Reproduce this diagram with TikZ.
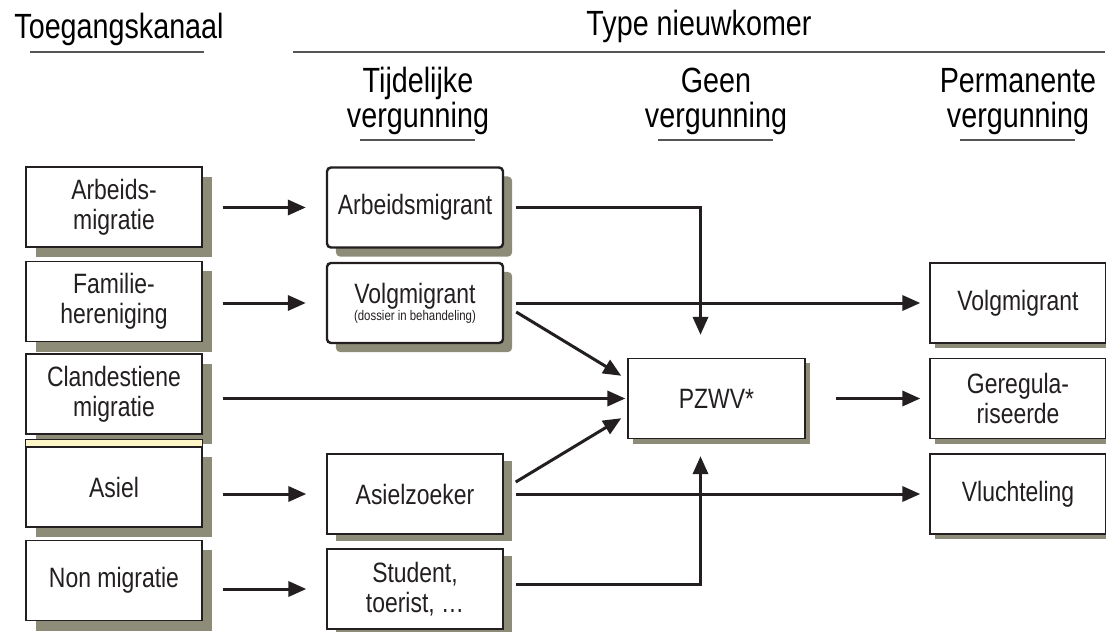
\documentclass[tikz,border=0pt]{standalone}
\usepackage{fontspec}
\setmainfont{Liberation Sans}[FakeStretch=0.82]
\usepackage{xcolor}
\definecolor{diaDark}{HTML}{231F20}
\definecolor{diaShadow}{HTML}{8C8C78}
\definecolor{diaRule}{HTML}{555555}
\definecolor{diaStrip}{HTML}{FFF6C8}
\usetikzlibrary{arrows.meta,shadows,calc}
\newcommand{\vakfont}{\fontsize{19.9}{21.3}\selectfont}
\newcommand{\hoofdfont}{\fontsize{24.9}{26}\selectfont}
\newcommand{\kleinfont}{\fontsize{9.9}{11}\selectfont}
\tikzset{
    vak/.style={
        draw=diaDark,
        fill=white,
        rectangle,
        align=center,
        minimum height=2cm,
        minimum width=4.4cm,
        inner sep=0pt,
        line width=0.035cm,
        text=diaDark,
        font=\vakfont
    },
    kanaal/.style={
        vak,
        drop shadow={shadow xshift=0.25cm, shadow yshift=-0.25cm, fill=diaShadow, opacity=1}
    },
    tijdelijk/.style={
        vak,
        rounded corners=0.1cm,
        line width=0.06cm,
        drop shadow={shadow xshift=0.225cm, shadow yshift=-0.225cm, fill=diaShadow, opacity=1}
    },
    tijdelijkrecht/.style={
        vak,
        drop shadow={shadow xshift=0.225cm, shadow yshift=-0.175cm, fill=diaShadow, opacity=1}
    },
    geenvak/.style={
        vak,
        minimum width=4.425cm,
        drop shadow={shadow xshift=0.125cm, shadow yshift=-0.125cm, fill=diaShadow, opacity=1}
    },
    permanent/.style={
        vak,
        drop shadow={shadow xshift=0.125cm, shadow yshift=-0.125cm, fill=diaShadow, opacity=1}
    },
    kop/.style={
        anchor=base,
        inner sep=0pt,
        text=black,
        font=\hoofdfont
    },
    lijn/.style={
        line width=0.045cm,
        color=diaRule
    },
    arrow/.style={
        -{Triangle[length=0.45cm,width=0.38cm]},
        line width=0.075cm,
        color=diaDark
    }
}

\begin{document}
\begin{tikzpicture}[x=0.025cm,y=-0.025cm]
    \useasboundingbox (0,0) rectangle (1106,632);

    % Koppen
    \node[kop] (toeg) at (119,38) {Toegangskanaal};
    \node[kop] (type) at (699,35) {Type nieuwkomer};
    \draw[lijn] ($(toeg.base)+(-89,14)$) -- ($(toeg.base)+(85,14)$);
    \draw[lijn] ($(type.base)+(-406,17)$) -- ($(type.base)+(406,17)$);

    \node[kop] (tijd) at (418,92) {Tijdelijke};
    \node[kop] (tijdv) at (418,127) {vergunning};
    \node[kop] (geen) at (716,92) {Geen};
    \node[kop] (geenv) at (716,127) {vergunning};
    \node[kop] (perm) at (1018,92) {Permanente};
    \node[kop] (permv) at (1018,127) {vergunning};
    \foreach \v in {tijdv,geenv,permv} {
        \draw[lijn] ($(\v.base)+(-58,13)$) -- ($(\v.base)+(57,13)$);
    }

    % Toegangskanalen
    \node[kanaal] (arbeid) at (114,207) {Arbeids-\\migratie};
    \node[kanaal] (familie) at (114,301.5) {Familie-\\hereniging};
    \node[kanaal] (clandestien) at (114,394) {Clandestiene\\migratie};
    \node[kanaal] (asiel) at (114,487) {Asiel};
    \node[kanaal] (non) at (114,580.5) {Non migratie};
    \draw[draw=diaDark, fill=diaStrip, line width=0.035cm]
        ($(asiel.north west)+(0,-7)$) rectangle (asiel.north east);

    % Tijdelijke vergunning
    \node[tijdelijk] (arbeidsmigrant) at (415,207.5) {Arbeidsmigrant};
    \node[tijdelijk] (volgtijd) at (415,303)
        {Volgmigrant\\[-9pt]{\kleinfont (dossier in behandeling)}};
    \node[tijdelijkrecht] (asielzoeker) at (415,494) {Asielzoeker};
    \node[tijdelijkrecht] (student) at (415,589) {Student,\\toerist, …};

    % Geen en permanente vergunning
    \node[geenvak] (pzwv) at (716.5,398.5) {PZWV*};
    \node[permanent] (volgperm) at (1018,303) {Volgmigrant};
    \node[permanent] (geregul) at (1018,398.5) {Geregula-\\riseerde};
    \node[permanent] (vlucht) at (1018,494) {Vluchteling};

    % Pijlen
    \draw[arrow, shorten <=0.5cm, shorten >=0.5cm] (arbeid.east |- arbeidsmigrant.west) -- (arbeidsmigrant.west);
    \draw[arrow, shorten <=0.5cm, shorten >=0.5cm] (familie.east |- volgtijd.west) -- (volgtijd.west);
    \draw[arrow, shorten <=0.5cm, shorten >=0.5cm] (asiel.east |- asielzoeker.west) -- (asielzoeker.west);
    \draw[arrow, shorten <=0.5cm, shorten >=0.5cm] (non.east |- student.west) -- (student.west);
    \draw[arrow, shorten <=0.5cm, shorten >=0.05cm] (clandestien.east |- pzwv.west) -- (pzwv.west);

    \draw[arrow, shorten <=0.3cm] (arbeidsmigrant.east) -| ($(pzwv.north)+(-16,-23)$);
    \draw[arrow] ($(student.east)+(12,-5)$) -| ($(pzwv.south)+(-16,17)$);
    \draw[arrow] ($(volgtijd.east)+(12,9)$) -- ($(pzwv.north west)+(-6,18)$);
    \draw[arrow] ($(asielzoeker.east)+(12,-12)$) -- ($(pzwv.south west)+(-6,-21)$);
    \draw[arrow, shorten <=0.3cm, shorten >=0.225cm] (volgtijd.east) -- (volgperm.west);
    \draw[arrow, shorten <=0.3cm, shorten >=0.225cm] (asielzoeker.east) -- (vlucht.west);
    \draw[arrow, shorten <=0.75cm, shorten >=0.225cm] (pzwv.east) -- (geregul.west);
\end{tikzpicture}
\end{document}
